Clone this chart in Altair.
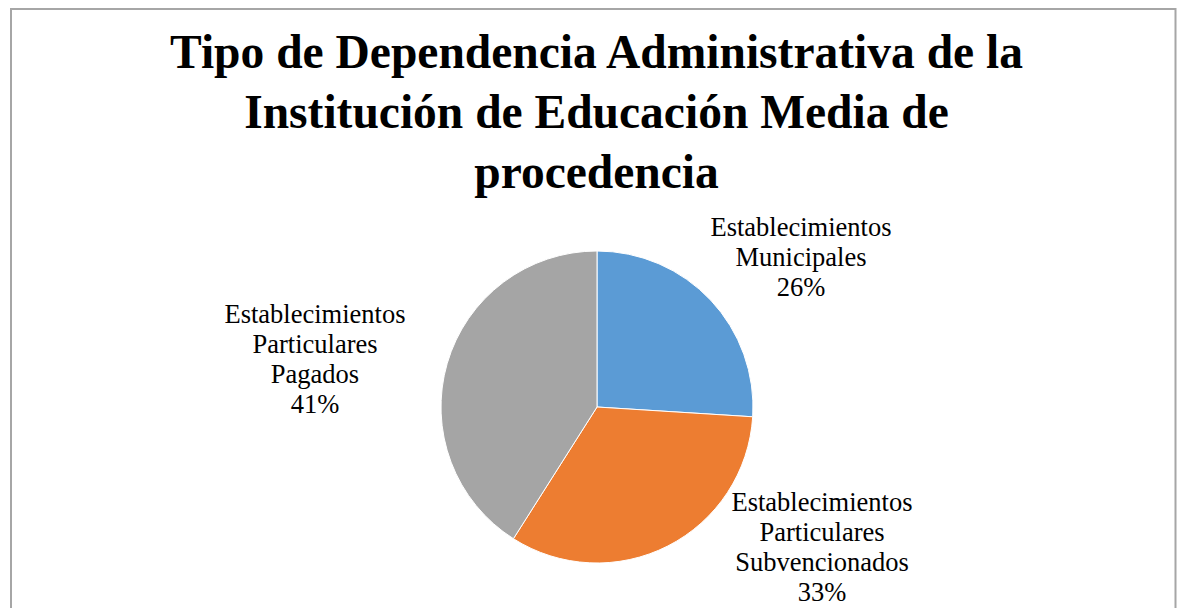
import altair as alt
import pandas as pd

# Data
categories = [
    "Establecimientos Municipales",
    "Establecimientos Particulares Subvencionados",
    "Establecimientos Particulares Pagados",
]
values = [26, 33, 41]
colors = ["#5B9BD5", "#ED7D31", "#A5A5A5"]
title_lines = [
    "Tipo de Dependencia Administrativa de la",
    "Institución de Educación Media de",
    "procedencia",
]

total = sum(values)
df = pd.DataFrame({
    "categoria": categories,
    "valor": values,
    "orden": list(range(len(categories))),
    "etiqueta": [
        "\n".join(c.split(" ")) + "\n" + f"{round(v / total * 100)}%"
        for c, v in zip(categories, values)
    ],
})

FONT = "Liberation Serif"
W, H = 1169, 600
CX, CY, R = 589, 399, 156
BORDER = "#A6A6A6"

base = alt.Chart(df)

pie = base.mark_arc(radius=R, stroke="white", strokeWidth=1).encode(
    theta=alt.Theta("valor:Q", stack=True),
    order=alt.Order("orden:Q"),
    color=alt.Color("categoria:N",
                    scale=alt.Scale(domain=categories, range=colors),
                    legend=None),
    x=alt.value(CX),
    y=alt.value(CY),
)

def label(cat, x, y):
    return base.transform_filter(alt.datum.categoria == cat).mark_text(
        font=FONT, fontSize=26.5, lineHeight=30, lineBreak="\n",
        align="center", baseline="alphabetic", color="#000000",
    ).encode(text="etiqueta:N", x=alt.value(x), y=alt.value(y))

lab_mun = label(categories[0], 793, 228)
lab_sub = label(categories[1], 814, 503)
lab_pag = label(categories[2], 307, 315)

title = alt.Chart(alt.Data(values=[{"t": "\n".join(title_lines)}])).mark_text(
    font=FONT, fontSize=47.5, fontWeight="bold", lineHeight=60, lineBreak="\n",
    align="center", baseline="alphabetic", color="#000000",
).encode(text="t:N", x=alt.value(588.5), y=alt.value(60))

border_data = alt.Data(values=[{"k": 1}])
bl = alt.Chart(border_data).mark_rule(color=BORDER, strokeWidth=2).encode(
    x=alt.value(3), y=alt.value(0), y2=alt.value(H))
bt = alt.Chart(border_data).mark_rule(color=BORDER, strokeWidth=2).encode(
    x=alt.value(3), x2=alt.value(1167.5), y=alt.value(1))
br = alt.Chart(border_data).mark_rule(color=BORDER, strokeWidth=2).encode(
    x=alt.value(1167.5), y=alt.value(0), y2=alt.value(H))

chart = alt.layer(pie, lab_mun, lab_sub, lab_pag, title, bl, bt, br).properties(
    width=W, height=H,
    autosize=alt.AutoSizeParams(type="none"),
    padding=0,
    background="white",
).configure_view(stroke=None)

chart.save("out.html", embed_options={"renderer": "svg", "actions": False})
